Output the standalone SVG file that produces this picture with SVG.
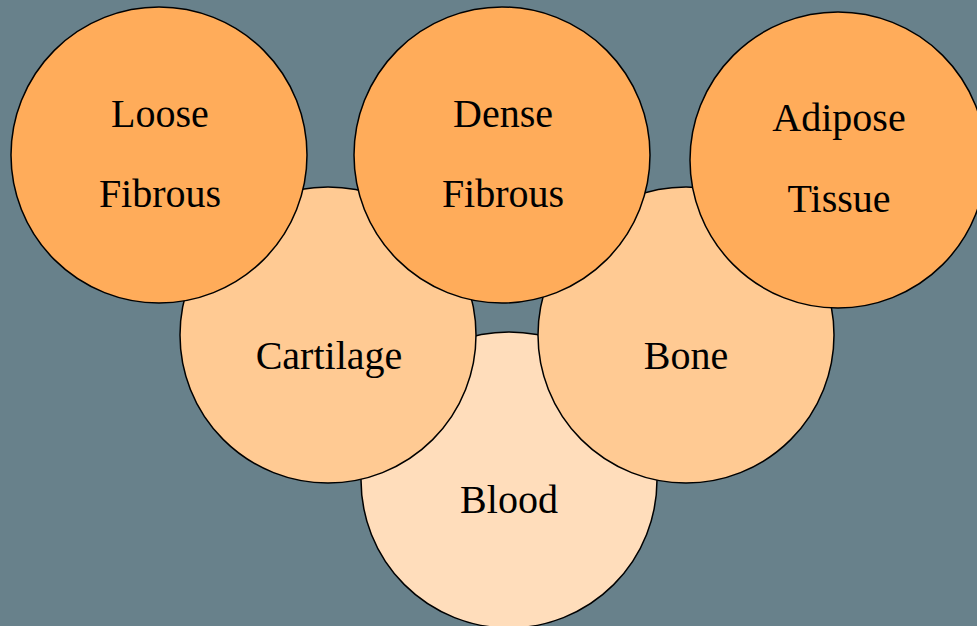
<svg xmlns="http://www.w3.org/2000/svg" width="977" height="626" viewBox="0 0 977 626">
<style>
.c{stroke:#000;stroke-width:1.5}
.d{fill:#FFAC5A}
.m{fill:#FFCA93}
.l{fill:#FFDDBB}
text{font-family:"Liberation Serif","Times New Roman",serif;font-size:40px;fill:#000;text-anchor:middle}
</style>
<rect width="977" height="626" fill="#68818B"/>
<g id="connectors"/>
<g id="blood"><circle class="c l" cx="509" cy="480" r="148"/><text x="509" y="513">Blood</text></g>
<g id="cartilage"><circle class="c m" cx="328" cy="335" r="148"/><text x="329" y="369">Cartilage</text></g>
<g id="bone"><circle class="c m" cx="686" cy="335" r="148"/><text x="686" y="369">Bone</text></g>
<g id="loose"><circle class="c d" cx="159" cy="155" r="148"/><text x="160" y="127">Loose</text><text x="160" y="207">Fibrous</text></g>
<g id="dense"><circle class="c d" cx="502" cy="155" r="148"/><text x="503" y="127">Dense</text><text x="503" y="207">Fibrous</text></g>
<g id="adipose"><circle class="c d" cx="838" cy="160" r="148"/><text x="839" y="131">Adipose</text><text x="839" y="212">Tissue</text></g>
</svg>
